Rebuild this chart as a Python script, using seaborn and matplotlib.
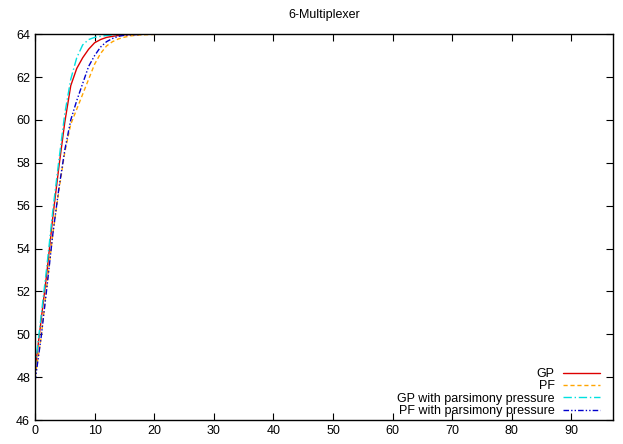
import numpy as np
import pandas as pd
import matplotlib
matplotlib.use("Agg")
import matplotlib.pyplot as plt
import seaborn as sns

generations = list(range(0, 98))

gp_head = [48.3, 50.6, 52.9, 55.5, 57.8, 59.9, 61.6, 62.4, 62.9, 63.3, 63.6,
           63.75, 63.85, 63.9, 63.94, 63.97, 63.98, 63.99]
pf_head = [48.0, 49.8, 52.3, 54.7, 56.7, 58.5, 59.8, 60.5, 61.2, 61.9, 62.6,
           63.1, 63.45, 63.65, 63.78, 63.86, 63.92, 63.95, 63.97, 63.98, 63.99]
gp_pp_head = [48.4, 50.8, 53.2, 55.8, 58.1, 60.3, 61.9, 62.9, 63.5, 63.75,
              63.85, 63.9, 63.94, 63.96, 63.98, 63.99]
pf_pp_head = [47.8, 49.8, 52.2, 54.7, 56.8, 58.6, 60.0, 60.9, 61.7, 62.5,
              63.0, 63.4, 63.65, 63.8, 63.9, 63.95, 63.97, 63.98, 63.99]

def full(head):
    return head + [64.0] * (len(generations) - len(head))

series = {
    "GP": full(gp_head),
    "PF": full(pf_head),
    "GP with parsimony pressure": full(gp_pp_head),
    "PF with parsimony pressure": full(pf_pp_head),
}

colors = {
    "GP": "#dd0000",
    "PF": "#ffa500",
    "GP with parsimony pressure": "#00e0e0",
    "PF with parsimony pressure": "#0000cc",
}
dashes = {
    "GP": (None, None),
    "PF": (3, 2),
    "GP with parsimony pressure": (6, 2, 1, 2),
    "PF with parsimony pressure": (4, 1.5, 1, 1.5, 1, 1.5),
}

sns.set_style("ticks")
plt.rcParams["font.family"] = ["Liberation Sans", "DejaVu Sans"]
plt.rcParams["font.size"] = 9
plt.rcParams["text.color"] = "black"
plt.rcParams["axes.labelcolor"] = "black"
plt.rcParams["xtick.color"] = "black"
plt.rcParams["ytick.color"] = "black"

fig = plt.figure(figsize=(6.23, 4.44), dpi=100)
ax = fig.add_axes([0.0562, 0.054, 0.9278, 0.869])

df = pd.DataFrame({"gen": generations, **series})
for name in series:
    sns.lineplot(data=df, x="gen", y=name, ax=ax, color=colors[name],
                 linewidth=1.0, label=name)
    l = ax.get_lines()[-1]
    d = dashes[name]
    if d[0] is not None:
        l.set_dashes(d)

ax.set_xlim(0, 97)
ax.set_ylim(46, 64)
ax.set_xticks(range(0, 100, 10))
ax.set_yticks(range(46, 65, 2))
ax.set_xlabel("")
ax.set_ylabel("")
ax.set_title("6-Multiplexer", fontsize=9, pad=12, color="black")
ax.tick_params(direction="in", top=True, right=True, length=5, width=0.8,
               labelsize=9, colors="black")
for s in ax.spines.values():
    s.set_visible(True)
    s.set_linewidth(1.0)
    s.set_color("black")

leg = ax.legend(loc="lower right", bbox_to_anchor=(0.977, 0.008),
                frameon=False, markerfirst=False, borderpad=0.0,
                fontsize=9, handlelength=2.9, handletextpad=0.7,
                labelspacing=0.02, borderaxespad=0.0)
for t in leg.get_texts():
    t.set_color("black")

fig.savefig("out.png", dpi=100)
